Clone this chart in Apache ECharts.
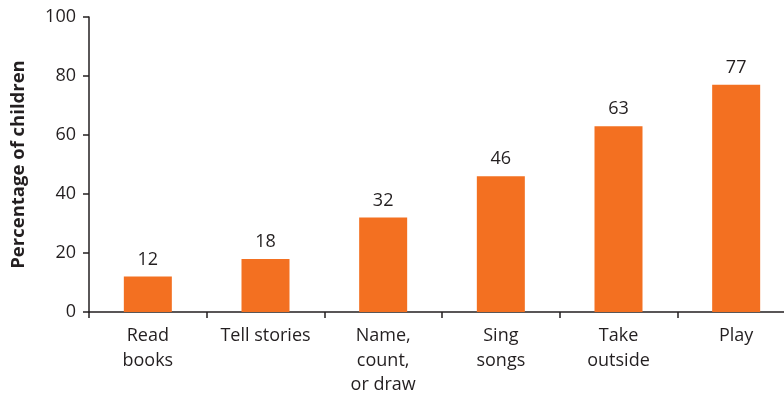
<!DOCTYPE html>
<html><head><meta charset="utf-8">
<script src="https://cdn.jsdelivr.net/npm/echarts@6/dist/echarts.min.js"></script>
<style>html,body{margin:0;padding:0;background:#fff}#c{width:784px;height:398px}</style>
</head><body><div id="c"></div>
<script>
const categories = ['Read\nbooks', 'Tell stories', 'Name,\ncount,\nor draw', 'Sing\nsongs', 'Take\noutside', 'Play'];
const values = [12, 18, 32, 46, 63, 77];
const yTicks = [0, 20, 40, 60, 80, 100];
const yName = 'Percentage of children';

const font = '"Open Sans", sans-serif';
const txt = '#231f20';
const chart = echarts.init(document.getElementById('c'));
chart.setOption({
  animation: false,
  grid: { left: 89, width: 706, top: 17, bottom: 86, containLabel: false, outerBoundsMode: 'none' },
  xAxis: {
    type: 'category', data: categories,
    axisLine: { lineStyle: { color: txt, width: 1.5 } },
    axisTick: { show: true, length: 6, lineStyle: { color: txt, width: 1.5 } },
    axisLabel: { color: txt, fontSize: 18, fontFamily: font, margin: 12, lineHeight: 24.5, interval: 0 }
  },
  yAxis: {
    type: 'value', min: yTicks[0], max: yTicks[yTicks.length - 1], interval: 20,
    name: yName, nameLocation: 'middle', nameGap: 61,
    nameTextStyle: { color: txt, fontSize: 18.5, fontWeight: 'bold', fontFamily: font },
    axisLine: { show: true, lineStyle: { color: txt, width: 1.5 } },
    axisTick: { show: true, length: 6, lineStyle: { color: txt, width: 1.5 } },
    axisLabel: { color: txt, fontSize: 18, fontFamily: font, margin: 13 },
    splitLine: { show: false }
  },
  series: [{
    type: 'bar', data: values, barWidth: 48,
    itemStyle: { color: '#f37021' },
    label: { show: true, position: 'top', distance: 8, color: txt, fontSize: 18, fontFamily: font }
  }]
});
</script></body></html>
